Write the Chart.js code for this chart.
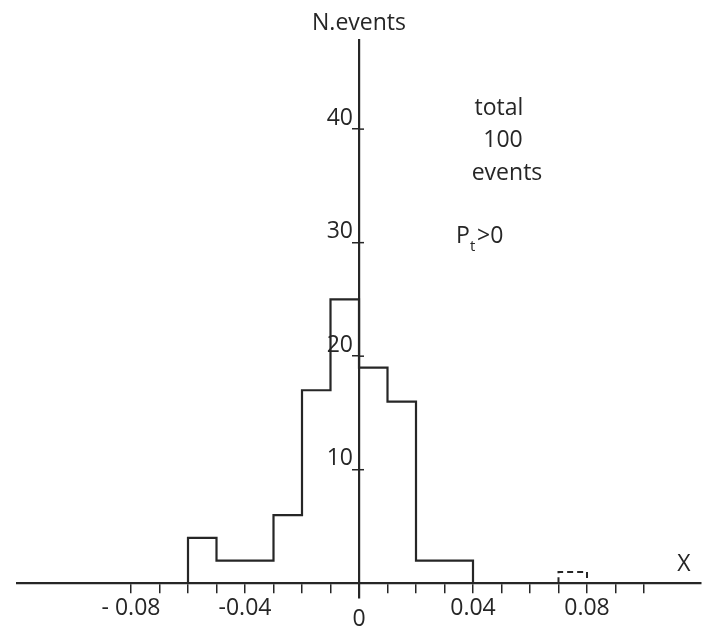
<!DOCTYPE html>
<html>
<head>
<meta charset="utf-8">
<script src="https://cdn.jsdelivr.net/npm/chart.js@4"></script>
<style>
  body { margin: 0; background: #fff; }
  #wrap { width: 708px; height: 638px; }
</style>
</head>
<body>
<div id="wrap"><canvas id="histo" width="708" height="638"></canvas></div>
<script>
// bin edges (x) and number of events in each bin
const binEdges = [-0.06, -0.05, -0.03, -0.02, -0.01, 0, 0.01, 0.02, 0.04];
const binCounts = [4, 2, 6, 17, 25, 19, 16, 2];
// single dashed bin near 0.08
const dashedEdges = [0.07, 0.08];
const dashedCounts = [1];
// axis ticks
const xTicks = [-0.08, -0.07, -0.06, -0.05, -0.04, -0.03, -0.02, -0.01, 0, 0.01, 0.02, 0.03, 0.04, 0.05, 0.06, 0.07, 0.08, 0.09, 0.10];
const xLabels = ['-0.08', '-0.04', '0.04', '0.08'];
const yTicks = [10, 20, 30, 40];

const ink = '#262626';
const font = "'Open Sans', 'DejaVu Sans', sans-serif";

// outline of a histogram as step points
function outline(edges, counts) {
    const pts = [{x: edges[0], y: 0}];
    counts.forEach((c, i) => {
        pts.push({x: edges[i], y: c});
        pts.push({x: edges[i + 1], y: c});
    });
    pts.push({x: edges[edges.length - 1], y: 0});
    return pts;
}

const fmt = v => (Math.round(v * 100) / 100).toFixed(2);

const textPlugin = {
    id: 'texts',
    afterDraw(chart) {
        const c = chart.ctx;
        const xs = chart.scales.x;
        const ys = chart.scales.y;
        const x0 = xs.getPixelForValue(0);
        c.save();
        c.strokeStyle = ink;
        c.fillStyle = ink;
        c.lineWidth = 1.5;
        c.font = '23px ' + font;
        c.textBaseline = 'middle';
        // y tick labels, sitting a little above their ticks, and ticks crossing the axis
        c.textAlign = 'right';
        yTicks.forEach(v => {
            const py = ys.getPixelForValue(v);
            c.beginPath();
            c.moveTo(x0, py);
            c.lineTo(x0 + 5, py);
            c.stroke();
            c.fillText(String(v), x0 - 6, py - 11);
        });
        c.textAlign = 'center';
        c.fillText('N.events', 359, 23);
        c.fillText('0', x0, 619);
        c.fillText('X', 684, 564);
        c.fillText('total', 499, 108);
        c.fillText('100', 503, 140);
        c.fillText('events', 507, 173);
        // P_t > 0
        c.textAlign = 'left';
        c.fillText('P', 456, 236);
        c.font = '15px ' + font;
        c.fillText('t', 470, 247);
        c.font = '23px ' + font;
        c.fillText('>0', 477, 236);
        c.restore();
    }
};

new Chart(document.getElementById('histo'), {
    type: 'scatter',
    data: {
        datasets: [{
            data: outline(binEdges, binCounts),
            showLine: true,
            borderColor: ink,
            borderWidth: 2.2,
            pointRadius: 0,
            tension: 0
        }, {
            data: outline(dashedEdges, dashedCounts),
            showLine: true,
            borderColor: ink,
            borderWidth: 2,
            borderDash: [6, 4],
            pointRadius: 0,
            tension: 0
        }]
    },
    options: {
        responsive: false,
        animation: false,
        layout: { padding: { left: 17, right: 7, top: 40, bottom: 40 } },
        plugins: { legend: { display: false }, tooltip: { enabled: false } },
        scales: {
            x: {
                type: 'linear',
                position: { y: 0 },
                min: -0.12,
                max: 0.12,
                afterBuildTicks: axis => { axis.ticks = xTicks.map(v => ({value: v})); },
                grid: { drawOnChartArea: false, drawTicks: true, tickLength: 9, color: ink, lineWidth: 1.5 },
                border: { color: ink, width: 2.2 },
                ticks: {
                    color: ink,
                    font: { family: font, size: 23 },
                    padding: 2,
                    maxRotation: 0,
                    autoSkip: false,
                    callback: v => {
                        const s = fmt(v);
                        if (!xLabels.includes(s)) return '';
                        return s === '-0.08' ? '- 0.08' : s;
                    }
                }
            },
            y: {
                type: 'linear',
                position: { x: 0 },
                min: -1.3,
                max: 47.85,
                afterBuildTicks: axis => { axis.ticks = yTicks.map(v => ({value: v})); },
                grid: { drawOnChartArea: false, drawTicks: true, tickLength: 6, color: ink, lineWidth: 1.5 },
                border: { color: ink, width: 2.2 },
                ticks: { display: false }
            }
        }
    },
    plugins: [textPlugin]
});
</script>
</body>
</html>
